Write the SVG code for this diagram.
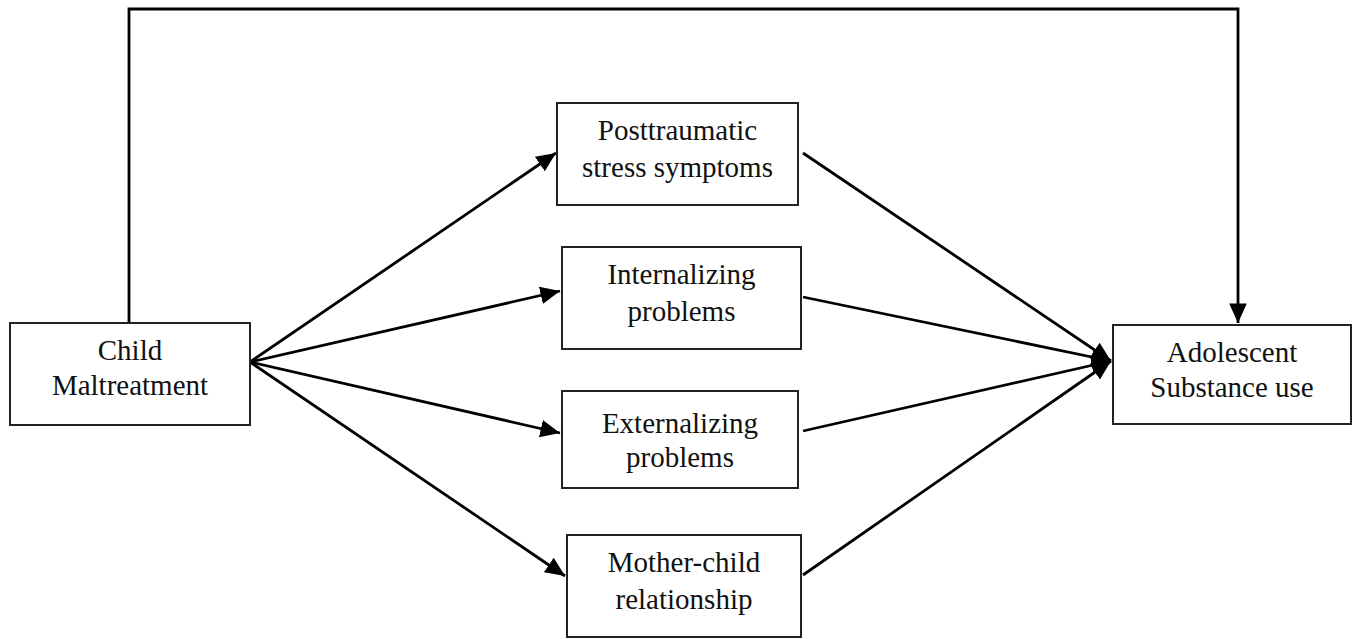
<svg xmlns="http://www.w3.org/2000/svg" width="1360" height="639" viewBox="0 0 1360 639">
<style>
.box{fill:#fff;stroke:#222;stroke-width:2}
.t{font-family:"Liberation Serif","Times New Roman",serif;font-size:29px;fill:#111;text-anchor:middle}
.c{fill:none;stroke:#000;stroke-width:2.8}
</style>
<defs>
<marker id="a" viewBox="0 0 10 10" refX="10" refY="5" markerWidth="7" markerHeight="7" orient="auto">
<path d="M0,0.5 L10,5 L0,9.5 Z" fill="#000"/>
</marker>
</defs>
<rect width="1360" height="639" fill="#fff"/>
<g id="connectors">
<path class="c" d="M129,323 V9 H1238 V323" marker-end="url(#a)"/>
<line class="c" x1="250" y1="362" x2="556" y2="153" marker-end="url(#a)"/>
<line class="c" x1="250" y1="362" x2="560" y2="291" marker-end="url(#a)"/>
<line class="c" x1="250" y1="362" x2="560" y2="433" marker-end="url(#a)"/>
<line class="c" x1="250" y1="362" x2="565" y2="576" marker-end="url(#a)"/>
<line class="c" x1="803" y1="153" x2="1111" y2="361" marker-end="url(#a)"/>
<line class="c" x1="803" y1="297" x2="1111" y2="361" marker-end="url(#a)"/>
<line class="c" x1="803" y1="431" x2="1111" y2="361" marker-end="url(#a)"/>
<line class="c" x1="803" y1="575" x2="1111" y2="361" marker-end="url(#a)"/>
</g>
<g id="child-maltreatment">
<rect class="box" x="10" y="323" width="240" height="102"/>
<text class="t" x="130" y="360">Child</text>
<text class="t" x="130" y="395">Maltreatment</text>
</g>
<g id="posttraumatic">
<rect class="box" x="557" y="103" width="241" height="102"/>
<text class="t" x="677.5" y="140">Posttraumatic</text>
<text class="t" x="677.5" y="177">stress symptoms</text>
</g>
<g id="internalizing">
<rect class="box" x="562" y="247" width="239" height="102"/>
<text class="t" x="681.5" y="284">Internalizing</text>
<text class="t" x="681.5" y="321">problems</text>
</g>
<g id="externalizing">
<rect class="box" x="562" y="391" width="236" height="97"/>
<text class="t" x="680" y="433">Externalizing</text>
<text class="t" x="680" y="467">problems</text>
</g>
<g id="mother-child">
<rect class="box" x="567" y="535" width="234" height="102"/>
<text class="t" x="684" y="572">Mother-child</text>
<text class="t" x="684" y="609">relationship</text>
</g>
<g id="adolescent">
<rect class="box" x="1113" y="325" width="238" height="99"/>
<text class="t" x="1232" y="362">Adolescent</text>
<text class="t" x="1232" y="397">Substance use</text>
</g>
</svg>
